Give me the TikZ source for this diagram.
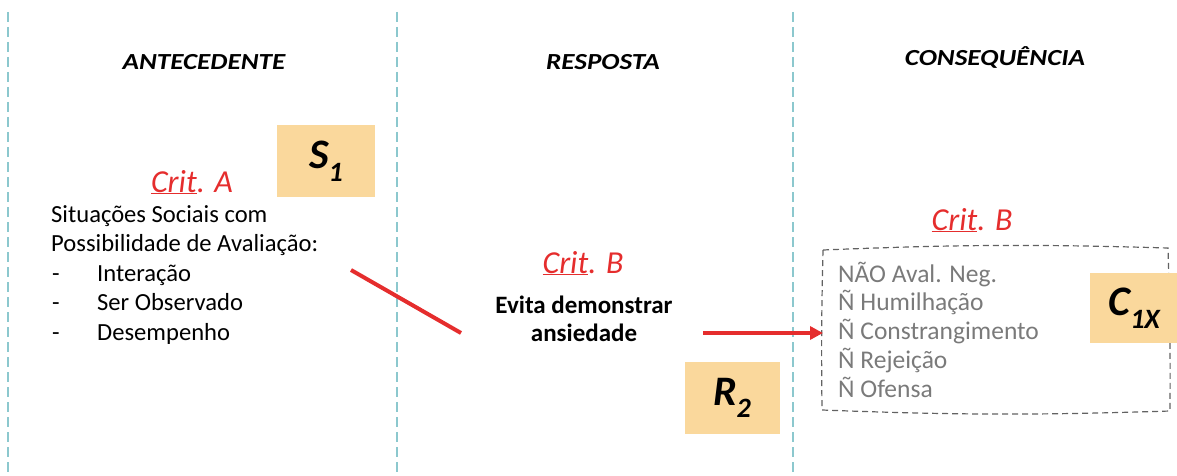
\documentclass[tikz,border=0pt]{standalone}
\usepackage{fontspec}
\setmainfont{Carlito}
\usetikzlibrary{arrows.meta}
\definecolor{crit}{HTML}{E52D2D}
\definecolor{lane}{HTML}{8CC8CE}
\definecolor{tag}{HTML}{FAD89C}
\definecolor{conseq}{HTML}{7A7A7A}
\tikzset{
  lanesep/.style={draw=lane, line width=1.2pt, dash pattern=on 10pt off 5pt},
  header/.style={font=\fontsize{23}{27}\selectfont\bfseries\itshape, anchor=base, inner sep=0pt},
  crittext/.style={text=crit, font=\fontsize{32}{36}\selectfont\itshape, anchor=base, inner sep=0pt},
  tagbox/.style={fill=tag, inner sep=0pt, font=\fontsize{42}{46}\selectfont\bfseries\itshape},
  body/.style={font=\fontsize{24.6}{29.5}\selectfont, anchor=base west, inner sep=0pt},
  bodyb/.style={font=\fontsize{25}{28}\selectfont\bfseries, anchor=base, inner sep=0pt},
  graytext/.style={text=conseq, font=\fontsize{25.5}{29}\selectfont, anchor=base west, inner sep=0pt},
  redline/.style={draw=crit, line width=4pt},
}
\newcommand{\critu}[1]{\underline{Crit}. #1}
\newcommand{\hdr}[1]{\scalebox{1.18}[1]{#1}}
\newcommand{\tagsub}[1]{\raisebox{-0.3em}{\fontsize{28}{30}\selectfont #1}}
\begin{document}
\begin{tikzpicture}[x=1pt,y=-1pt]
\useasboundingbox (0,0) rectangle (1177,476);
% lane separators
\coordinate (s1t) at (8,12); \coordinate (s1b) at (8,476);
\coordinate (s2t) at (397,12); \coordinate (s2b) at (397,476);
\coordinate (s3t) at (793,12); \coordinate (s3b) at (793,476);
\draw[lanesep] (s1t) -- (s1b);
\draw[lanesep] (s2t) -- (s2b);
\draw[lanesep] (s3t) -- (s3b);
% headers
\node[header] (hA) at (204,70) {\hdr{ANTECEDENTE}};
\node[header] (hR) at (603,70) {\hdr{RESPOSTA}};
\node[header] (hC) at (995,66) {\hdr{CONSEQUÊNCIA}};
% antecedent
\node[tagbox, minimum width=98pt, minimum height=72pt] (S1) at (326,161) {S\tagsub{1}};
\node[crittext] (critA) at (192,192) {\critu{A}};
\node[body] (sit1) at (51,222) {Situações Sociais com};
\node[body] (sit2) at (51,251.5) {Possibilidade de Avaliação:};
\node[body] (d1) at (52,281) {-};
\node[body] (d2) at (52,310.5) {-};
\node[body] (d3) at (52,340) {-};
\node[body] (i1) at (97,281) {Interação};
\node[body] (i2) at (97,310.5) {Ser Observado};
\node[body] (i3) at (97,340) {Desempenho};
% response
\node[crittext] (critB1) at (583,273) {\critu{B}};
\node[bodyb] (resp1) at (584,313) {Evita demonstrar};
\node[bodyb] (resp2) at (584,341) {ansiedade};
\node[tagbox, minimum width=95pt, minimum height=72pt] (R2) at (732,398) {R\tagsub{2}};
% consequence
\node[crittext] (critB2) at (972,230) {\critu{B}};
\coordinate (bTL) at (823,250);
\coordinate (bTR) at (1168,248);
\coordinate (bBR) at (1170,411);
\coordinate (bBL) at (822,410);
\coordinate (bL) at (823,333);
\draw[conseq!80!black, line width=1.2pt, dash pattern=on 6pt off 4pt]
  (bTL) to[bend left=2] (bTR) to[bend left=1] (bBR) to[bend left=2] (bBL) to[bend left=1] (bTL);
\node[graytext] (c1) at (838,282) {NÃO Aval. Neg.};
\node[graytext] (c2) at (838,310.5) {Ñ Humilhação};
\node[graytext] (c3) at (838,339) {Ñ Constrangimento};
\node[graytext] (c4) at (838,368) {Ñ Rejeição};
\node[graytext] (c5) at (838,397) {Ñ Ofensa};
\node[tagbox, minimum width=88pt, minimum height=70pt, anchor=north west] (C1X) at (1090,273) {C\tagsub{1X}};
% connectors
\coordinate (l1) at (351,270);
\coordinate (l2) at (461,333);
\draw[redline] (l1) -- (l2);
\coordinate (a1) at (703,333);
\draw[redline, -{Triangle[length=13pt,width=13pt]}] (a1) -- (bL);
\end{tikzpicture}
\end{document}
